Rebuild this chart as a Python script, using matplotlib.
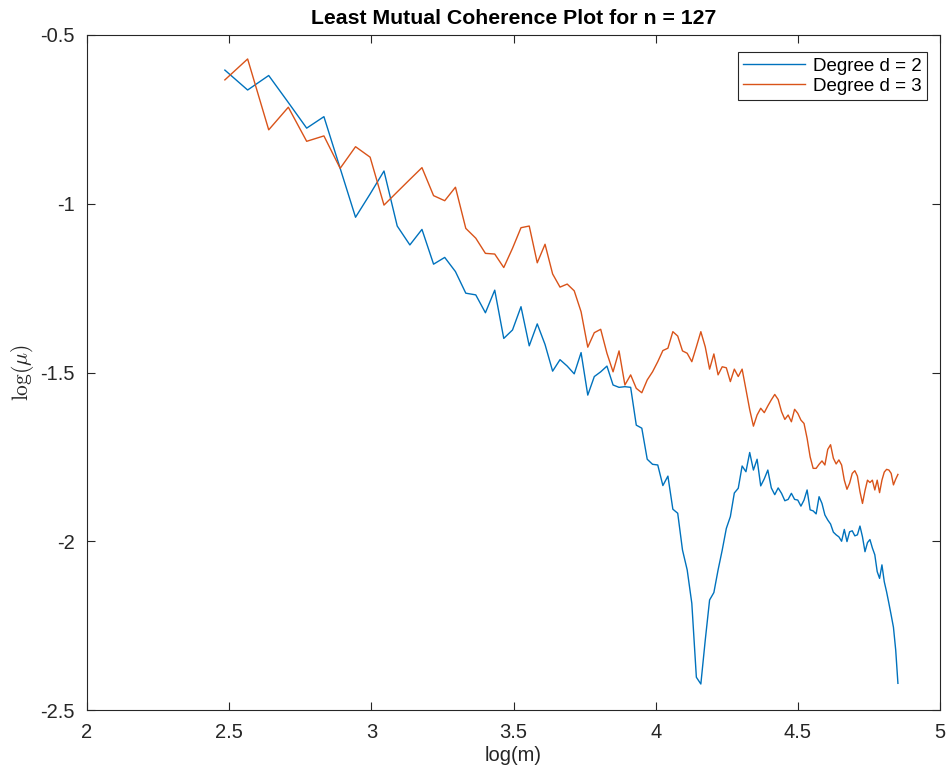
import numpy as np
import matplotlib
matplotlib.use('Agg')
import matplotlib.pyplot as plt

plt.rcParams['font.family'] = ['Liberation Sans', 'DejaVu Sans']
plt.rcParams['mathtext.fontset'] = 'cm'
plt.rcParams['axes.unicode_minus'] = False

# number of measurements m = 12 .. 128, plotted on a natural log scale
m_values = np.arange(12, 129)

# log of least mutual coherence, degree d = 2
log_mu_d2 = [
    -0.604, -0.663, -0.620, -0.700, -0.776, -0.742, -0.895, -1.040, -0.971, -0.903,
    -1.066, -1.122, -1.076, -1.179, -1.159, -1.201, -1.265, -1.270, -1.323, -1.256,
    -1.399, -1.374, -1.305, -1.421, -1.356, -1.417, -1.496, -1.462, -1.481, -1.504,
    -1.441, -1.567, -1.512, -1.498, -1.481, -1.537, -1.544, -1.542, -1.544, -1.656,
    -1.665, -1.757, -1.772, -1.774, -1.835, -1.807, -1.905, -1.917, -2.026, -2.085,
    -2.184, -2.403, -2.423, -2.293, -2.174, -2.152, -2.085, -2.026, -1.962, -1.927,
    -1.857, -1.843, -1.777, -1.794, -1.737, -1.789, -1.757, -1.836, -1.815, -1.789,
    -1.842, -1.862, -1.842, -1.858, -1.880, -1.876, -1.858, -1.876, -1.878, -1.896,
    -1.878, -1.848, -1.907, -1.910, -1.919, -1.868, -1.888, -1.922, -1.937, -1.949,
    -1.973, -1.981, -1.987, -2.000, -1.965, -2.001, -1.972, -1.969, -1.984, -1.981,
    -1.955, -1.987, -2.031, -2.004, -1.995, -2.020, -2.040, -2.090, -2.110, -2.070,
    -2.120, -2.150, -2.184, -2.219, -2.255, -2.322, -2.421,
]

# log of least mutual coherence, degree d = 3
log_mu_d3 = [
    -0.633, -0.571, -0.781, -0.714, -0.815, -0.799, -0.895, -0.831, -0.862, -1.004,
    -0.965, -0.928, -0.893, -0.976, -0.991, -0.951, -1.073, -1.102, -1.147, -1.149,
    -1.189, -1.132, -1.071, -1.066, -1.175, -1.120, -1.208, -1.247, -1.238, -1.258,
    -1.320, -1.425, -1.382, -1.372, -1.443, -1.498, -1.436, -1.537, -1.507, -1.547,
    -1.560, -1.522, -1.498, -1.468, -1.435, -1.428, -1.379, -1.392, -1.436, -1.443,
    -1.468, -1.424, -1.379, -1.424, -1.490, -1.445, -1.507, -1.483, -1.486, -1.527,
    -1.490, -1.512, -1.490, -1.550, -1.610, -1.659, -1.626, -1.606, -1.619, -1.599,
    -1.581, -1.565, -1.580, -1.616, -1.639, -1.626, -1.646, -1.609, -1.621, -1.641,
    -1.651, -1.695, -1.750, -1.784, -1.784, -1.772, -1.762, -1.774, -1.728, -1.714,
    -1.754, -1.771, -1.759, -1.774, -1.819, -1.846, -1.828, -1.799, -1.791, -1.807,
    -1.853, -1.888, -1.850, -1.819, -1.826, -1.819, -1.848, -1.819, -1.856, -1.819,
    -1.795, -1.787, -1.789, -1.799, -1.833, -1.816, -1.802,
]

x_ticks = [2, 2.5, 3, 3.5, 4, 4.5, 5]
x_ticklabels = ['2', '2.5', '3', '3.5', '4', '4.5', '5']
y_ticks = [-2.5, -2, -1.5, -1, -0.5]
y_ticklabels = ['-2.5', '-2', '-1.5', '-1', '-0.5']

axis_color = '#262626'

fig = plt.figure(figsize=(9.49, 7.73), dpi=100)
ax = fig.add_axes([87 / 949, 1 - 710 / 773, 853 / 949, 675 / 773])

log_m = np.log(m_values)
ax.plot(log_m, log_mu_d2, color='#0072BD', linewidth=1.0, label='Degree d = 2')
ax.plot(log_m, log_mu_d3, color='#D95319', linewidth=1.0, label='Degree d = 3')

ax.set_xlim(2, 5)
ax.set_ylim(-2.5, -0.5)
ax.set_xticks(x_ticks)
ax.set_xticklabels(x_ticklabels)
ax.set_yticks(y_ticks)
ax.set_yticklabels(y_ticklabels)

ax.tick_params(direction='in', length=6, width=0.8, color=axis_color,
               labelcolor=axis_color, labelsize=14.5, top=True, right=True, pad=9)
for spine in ax.spines.values():
    spine.set_color(axis_color)
    spine.set_linewidth(0.8)

ax.set_xlabel('log(m)', fontsize=14.5, color=axis_color, labelpad=3)
ax.set_ylabel(r'$\log(\mu)$', fontsize=15.5, color=axis_color, labelpad=3)
ax.set_title('Least Mutual Coherence Plot for n = 127', fontsize=15.3, fontweight='bold',
             color='black', pad=8)

leg = ax.legend(loc='upper right', bbox_to_anchor=(0.985, 0.975), borderaxespad=0,
                fontsize=13.5, fancybox=False, framealpha=1, edgecolor=axis_color,
                handlelength=3.3, handletextpad=0.4, borderpad=0.3, labelspacing=0.15)
leg.get_frame().set_linewidth(0.8)

fig.savefig('out.png', dpi=100)
